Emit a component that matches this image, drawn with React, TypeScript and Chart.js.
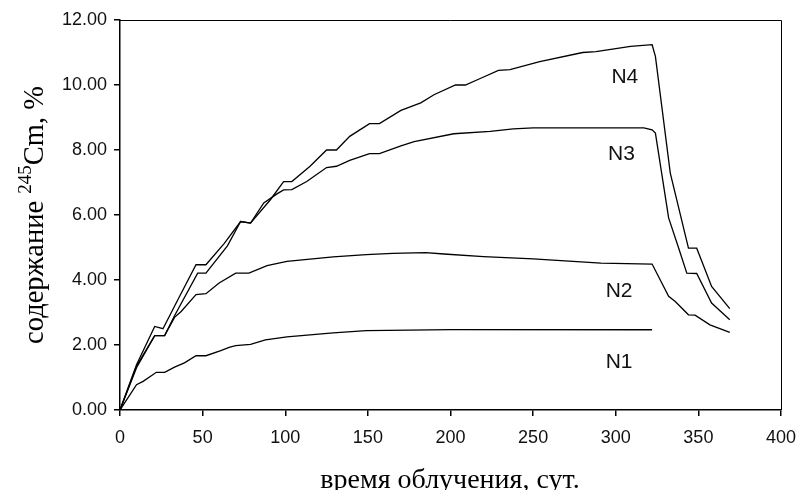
import React, { useEffect, useRef } from "react";
import { Chart, registerables } from "chart.js";

Chart.register(...registerables);

const n1Days = [0, 10, 14, 22, 27, 33, 39, 46, 52, 61, 66, 70, 79, 88, 101, 129, 149, 200, 322];
const n1Vals = [0, 0.78, 0.88, 1.16, 1.16, 1.32, 1.45, 1.67, 1.67, 1.83, 1.93, 1.98, 2.02, 2.16, 2.25, 2.37, 2.44, 2.47, 2.47];

const n2Days = [0, 10, 21, 27, 33, 37, 46, 52, 60, 70, 78, 89, 101, 129, 149, 165, 185, 196, 220, 250, 291, 322, 332, 336, 344, 348, 357, 369];
const n2Vals = [0, 1.3, 2.29, 2.29, 2.85, 3.03, 3.55, 3.58, 3.91, 4.21, 4.21, 4.44, 4.57, 4.71, 4.78, 4.82, 4.84, 4.8, 4.72, 4.65, 4.52, 4.49, 3.5, 3.34, 2.93, 2.92, 2.62, 2.39];

const n3Days = [0, 10, 21, 27, 33, 47, 52, 65, 73, 79, 87, 95, 99, 104, 113, 125, 131, 139, 151, 157, 170, 178, 202, 224, 238, 250, 317, 322, 324, 332, 338, 343, 349, 358, 369];
const n3Vals = [0, 1.35, 2.29, 2.29, 2.9, 4.21, 4.21, 5.05, 5.8, 5.75, 6.37, 6.65, 6.77, 6.78, 7.03, 7.46, 7.5, 7.68, 7.89, 7.89, 8.13, 8.26, 8.5, 8.57, 8.65, 8.68, 8.68, 8.62, 8.52, 5.91, 4.99, 4.21, 4.2, 3.29, 2.78];

const n4Days = [0, 10, 21, 26, 35, 46, 52, 63, 73, 79, 91, 99, 104, 115, 125, 131, 139, 151, 157, 170, 182, 190, 203, 209, 218, 229, 236, 254, 280, 288, 309, 322, 324, 333, 344, 349, 358, 369];
const n4Vals = [0, 1.39, 2.57, 2.5, 3.39, 4.47, 4.47, 5.12, 5.8, 5.75, 6.47, 7.03, 7.03, 7.5, 8.0, 8.0, 8.42, 8.81, 8.81, 9.22, 9.45, 9.7, 10.0, 10.0, 10.2, 10.45, 10.47, 10.72, 11.0, 11.03, 11.19, 11.24, 10.88, 7.29, 4.98, 4.98, 3.8, 3.12];

const seriesNames = ["N1", "N2", "N3", "N4"];
const labelDays = [302, 302, 303.5, 305.5];
const labelVals = [1.46, 3.64, 7.86, 10.25];

const xTitle = "время облучения, сут.";
const yTitleMain = "содержание ";
const yTitleSup = "245";
const yTitleEnd = "Cm, %";

const toPts = (xs: number[], ys: number[]) => xs.map((x, i) => ({ x, y: ys[i] }));

const overlay = {
  id: "overlay",
  afterDraw(chart: any) {
    const { ctx, chartArea, scales } = chart;
    ctx.save();
    // frame top/right
    ctx.strokeStyle = "#000";
    ctx.lineWidth = 1;
    ctx.beginPath();
    ctx.moveTo(chartArea.left, chartArea.top + 0.5);
    ctx.lineTo(chartArea.right + 0.5, chartArea.top + 0.5);
    ctx.lineTo(chartArea.right + 0.5, chartArea.bottom);
    ctx.stroke();
    // series labels
    ctx.fillStyle = "#111";
    ctx.font = "21px 'Liberation Sans', Arial, sans-serif";
    ctx.textAlign = "center";
    ctx.textBaseline = "middle";
    seriesNames.forEach((n, i) => {
      ctx.fillText(n, scales.x.getPixelForValue(labelDays[i]), scales.y.getPixelForValue(labelVals[i]));
    });
    // x title
    ctx.font = "28px 'Liberation Serif', 'Times New Roman', serif";
    ctx.textBaseline = "alphabetic";
    ctx.fillStyle = "#000";
    ctx.fillText(xTitle, 450, 488);
    // y title
    const mainFont = "28.5px 'Liberation Serif', 'Times New Roman', serif";
    const supFont = "19px 'Liberation Serif', 'Times New Roman', serif";
    ctx.font = mainFont;
    const w1 = ctx.measureText(yTitleMain).width;
    const w3 = ctx.measureText(yTitleEnd).width;
    ctx.font = supFont;
    const w2 = ctx.measureText(yTitleSup).width;
    const total = w1 + w2 + w3;
    ctx.translate(43, 215);
    ctx.rotate(-Math.PI / 2);
    ctx.textAlign = "left";
    let cx = -total / 2;
    ctx.font = mainFont;
    ctx.fillText(yTitleMain, cx, 0);
    cx += w1;
    ctx.font = supFont;
    ctx.fillText(yTitleSup, cx, -12);
    cx += w2;
    ctx.font = mainFont;
    ctx.fillText(yTitleEnd, cx, 0);
    ctx.restore();
  },
};

export default function App() {
  const ref = useRef<HTMLCanvasElement>(null);
  useEffect(() => {
    if (!ref.current) return;
    const mk = (xs: number[], ys: number[]) => ({
      data: toPts(xs, ys),
      borderColor: "#000",
      borderWidth: 1.3,
      pointRadius: 0,
      tension: 0,
      fill: false,
    });
    const chart = new Chart(ref.current, {
      type: "line",
      data: {
        datasets: [mk(n1Days, n1Vals), mk(n2Days, n2Vals), mk(n3Days, n3Vals), mk(n4Days, n4Vals)],
      },
      options: {
        animation: false,
        responsive: false,
        maintainAspectRatio: false,
        layout: { padding: { left: 0, top: 20, right: 16, bottom: 0 } },
        plugins: { legend: { display: false }, tooltip: { enabled: false } },
        scales: {
          x: {
            type: "linear",
            min: 0,
            max: 400,
            ticks: {
              stepSize: 50,
              color: "#111",
              padding: 11,
              maxRotation: 0,
              font: { size: 18, family: "'Liberation Sans', Arial, sans-serif" },
            },
            grid: { drawOnChartArea: false, drawTicks: true, tickLength: 6, color: "#000", lineWidth: 1.5 },
            border: { display: true, color: "#000", width: 1.5 },
            afterFit: (s: any) => {
              s.height = 80;
              s.paddingRight = 0;
              s.paddingLeft = 0;
            },
          },
          y: {
            type: "linear",
            min: 0,
            max: 12,
            ticks: {
              stepSize: 2,
              color: "#111",
              padding: 7,
              callback: (v: any) => Number(v).toFixed(2),
              font: { size: 18, family: "'Liberation Sans', Arial, sans-serif" },
            },
            grid: { drawOnChartArea: false, drawTicks: true, tickLength: 6, color: "#000", lineWidth: 1.5 },
            border: { display: true, color: "#000", width: 1.5 },
            afterFit: (s: any) => {
              s.width = 120;
              s.paddingTop = 0;
              s.paddingBottom = 0;
            },
          },
        },
      },
      plugins: [overlay],
    });
    return () => chart.destroy();
  }, []);
  return (
    <div style={{ position: "fixed", left: 0, top: 0, width: 797, height: 490, background: "#fff" }}>
      <canvas ref={ref} width={797} height={490} style={{ width: 797, height: 490 }} />
    </div>
  );
}
